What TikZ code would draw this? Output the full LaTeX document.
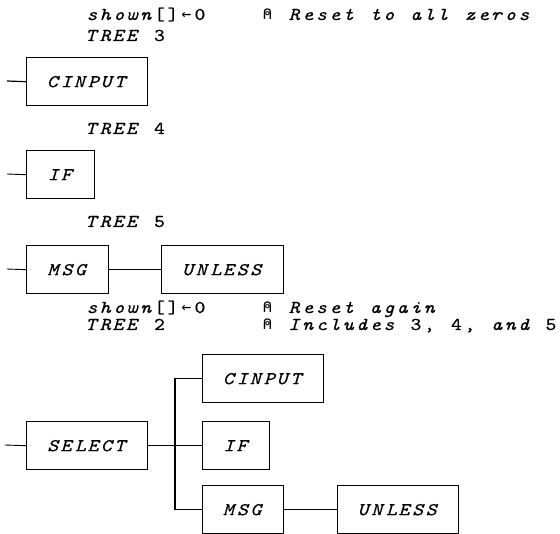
\documentclass[tikz,border=0pt]{standalone}
\usepackage{fontspec}
\setmainfont{lmmono10-regular.otf}[ItalicFont=lmmono10-italic.otf, FakeBold=0.5, FakeStretch=1.15]
\newfontfamily\aplsym{DejaVu Sans Mono}[Scale=0.9]

% Fixed-pitch cells: every character gets a box of the same width.
% Letters are set in italic, digits and symbols upright; '|' is an empty cell.
\ExplSyntaxOn
\dim_new:N \l_aplcell_dim
\dim_set:Nn \l_aplcell_dim {13.5pt}
\cs_new_protected:Npn \__apl_char:n #1
  {
    \str_if_eq:nnTF {#1} {|}
      { }
      {
        \str_if_in:nnTF { ABCDEFGHIJKLMNOPQRSTUVWXYZabcdefghijklmnopqrstuvwxyz } {#1}
          { \textit{#1} }
          {
            \str_if_in:nnTF { ⍝← } {#1}
              { { \aplsym #1 } }
              { #1 }
          }
      }
  }
\NewDocumentCommand \apl { m }
  {
    \str_map_inline:nn {#1}
      { \makebox [ \l_aplcell_dim ] [c] { \__apl_char:n {##1} } }
  }
\ExplSyntaxOff

\begin{document}
\begin{tikzpicture}[x=1pt,y=-1pt,
  aplfont/.style={font=\fontsize{18pt}{21pt}\selectfont},
  txt/.style={aplfont, anchor=base west, inner sep=0pt},
  blk/.style={aplfont, draw, line width=1.4pt, inner sep=0pt,
              minimum height=48pt, anchor=north west},
  wire/.style={line width=1.2pt},
  thinwire/.style={line width=0.9pt}]
\useasboundingbox (0,0) rectangle (560,534);

% session text
\node[txt] (l1) at (85,20)  {\apl{shown[]←0||||⍝ Reset to all zeros}};
\node[txt] (l2) at (85,41)  {\apl{TREE 3}};
\node[txt] (l3) at (85,134) {\apl{TREE 4}};
\node[txt] (l4) at (85,227) {\apl{TREE 5}};
\node[txt] (l5) at (85,313) {\apl{shown[]←0||||⍝ Reset again}};
\node[txt] (l6) at (85,330) {\apl{TREE 2|||||||⍝ Includes 3, 4, and 5}};

% TREE 3
\node[blk, minimum width=121pt] (cin1) at (26,57) {\apl{CINPUT}};
\coordinate (in1) at (7,81);
\draw[wire] (in1) -- (cin1.west);

% TREE 4
\node[blk, minimum width=68pt] (if1) at (26,150) {\apl{IF}};
\coordinate (in2) at (7,174);
\draw[thinwire] (in2) -- (if1.west);

% TREE 5
\node[blk, minimum width=82pt] (msg1) at (26,245) {\apl{MSG}};
\node[blk, minimum width=122pt] (unl1) at (161,245) {\apl{UNLESS}};
\coordinate (in3) at (7,269);
\draw[thinwire] (in3) -- (msg1.west);
\draw[thinwire] (msg1.east) -- (unl1.west);

% TREE 2
\node[blk, minimum width=121pt] (sel) at (26,421) {\apl{SELECT}};
\node[blk, minimum width=121pt] (cin2) at (202,354) {\apl{CINPUT}};
\node[blk, minimum width=67pt] (if2) at (202,421) {\apl{IF}};
\node[blk, minimum width=81pt] (msg2) at (202,485) {\apl{MSG}};
\node[blk, minimum width=121pt] (unl2) at (337,485) {\apl{UNLESS}};
\coordinate (in4) at (5,445);
\coordinate (trunkx) at (175,0);
\coordinate (j) at (sel.east -| trunkx);
\draw[thinwire] (in4) -- (sel.west);
\draw[wire] (sel.east) -- (if2.west);
\draw[wire] (cin2.west) -| (j) |- (msg2.west);
\draw[wire] (msg2.east) -- (unl2.west);
\end{tikzpicture}
\end{document}
